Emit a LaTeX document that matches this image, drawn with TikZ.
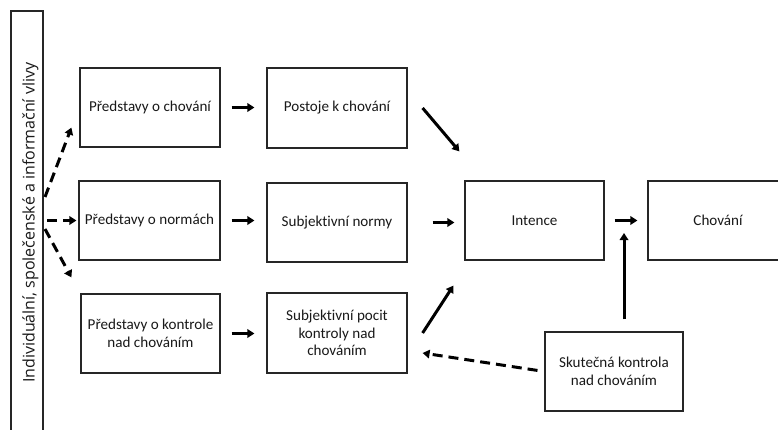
\documentclass[tikz,border=0pt]{standalone}
\usepackage{fontspec}
\setmainfont[Ligatures=NoCommon]{Carlito}
\newfontfamily\sidefont{Open Sans}
\usetikzlibrary{arrows.meta}
\begin{document}
\begin{tikzpicture}[x=1pt,y=-1pt,
  box/.style={draw=black!85,line width=1.2pt,align=center,inner sep=2pt,
    font=\fontsize{15.1}{17.8}\selectfont,text=black!90},
  sidetext/.style={inner sep=0pt,font=\sidefont\fontsize{16}{19}\selectfont,text=black!90},
  arr/.style={line width=3pt,-{Triangle[length=7pt,width=8.5pt]}},
  darr/.style={arr,dash pattern=on 10pt off 6pt}]
\useasboundingbox (0,0) rectangle (778,430);
\clip (0,0) rectangle (778,430);
\fill[white] (0,0) rectangle (778,430);
\node[box,minimum width=32pt,minimum height=423pt] (lb) at (27,222.5) {};
\node[sidetext,rotate=90] (lbt) at (30.5,222.8) {Individuální, společenské a informační vlivy};
\node[box,minimum width=140pt,minimum height=79pt] (b1) at (150,107.5) {Představy o chování};
\node[box,minimum width=141pt,minimum height=79pt] (b2) at (149.5,220.5) {Představy o normách};
\node[box,minimum width=139pt,minimum height=79pt] (b3) at (150.5,333.5) {Představy o kontrole\\nad chováním};
\node[box,minimum width=140pt,minimum height=80pt] (p1) at (337,108) {Postoje k chování};
\node[box,minimum width=140pt,minimum height=79pt] (p2) at (337,222.5) {Subjektivní normy};
\node[box,minimum width=140pt,minimum height=80pt] (p3) at (337,333) {Subjektivní pocit\\kontroly nad\\chováním};
\node[box,minimum width=139pt,minimum height=79pt] (int) at (534.5,220.5) {Intence};
\node[box,minimum width=140pt,minimum height=79pt] (ch) at (718,220.5) {Chování};
\node[box,minimum width=138pt,minimum height=79pt] (sk) at (614,371.5) {Skutečná kontrola\\nad chováním};
\coordinate (ls1) at (45,197);
\coordinate (ls2) at (47,220.5);
\coordinate (ls3) at (45,229);
\coordinate (m) at (624,233);
% left dashed
\draw[darr] (ls1) -- ([xshift=-8pt,yshift=20pt]b1.south west);
\draw[darr] (ls2) -- ([xshift=-2pt]b2.west);
\draw[darr] (ls3) -- ([xshift=-9pt,yshift=16pt]b3.north west);
% row arrows
\draw[arr,shorten <=11pt,shorten >=12pt] (b1.east) -- (p1.west |- b1.east);
\draw[arr,shorten <=11pt,shorten >=12pt] (b2.east) -- (p2.west |- b2.east);
\draw[arr,shorten <=11pt,shorten >=12pt] (b3.east) -- (p3.west |- b3.east);
\draw[arr] ([xshift=15pt]p1.east) -- ([xshift=-5pt,yshift=29pt]int.north west);
\draw[arr,shorten <=25pt,shorten >=10pt] (p2.east) -- (int.west |- p2.east);
\draw[arr] ([xshift=15pt]p3.east) -- ([xshift=-11pt,yshift=-25pt]int.south west);
\draw[arr,shorten <=10pt,shorten >=10pt] (int.east) -- (ch.west);
\draw[arr,shorten <=12pt] ([xshift=10pt]sk.north) -- (m);
\draw[darr,shorten <=7pt] (sk.west) -- ([xshift=15pt,yshift=-20pt]p3.east);
\end{tikzpicture}
\end{document}
